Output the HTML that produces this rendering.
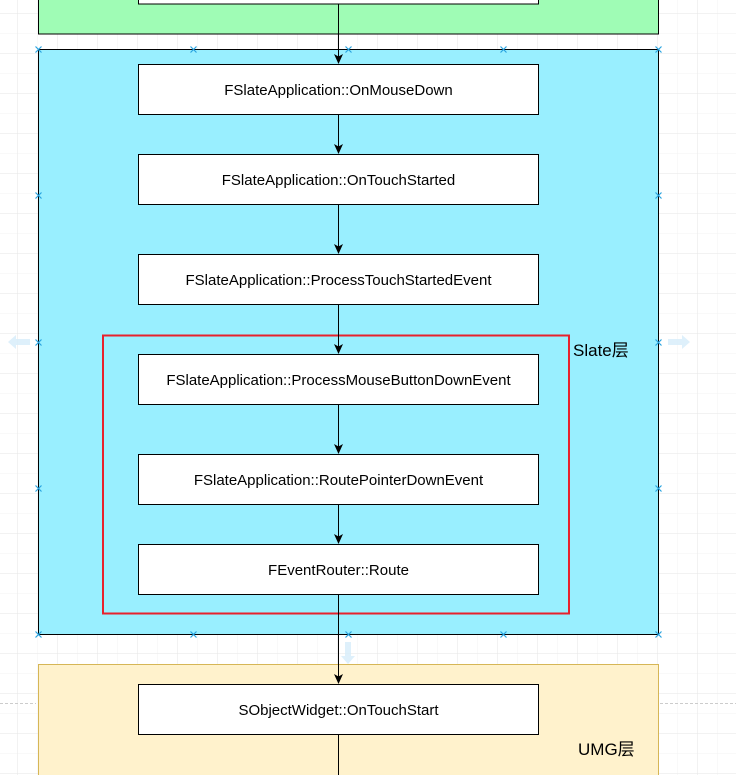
<!DOCTYPE html>
<html><head><meta charset="utf-8"><style>
html,body{margin:0;padding:0;width:736px;height:775px;overflow:hidden;background:#fff}
svg{display:block}
text{font-family:"Liberation Sans","Noto Sans CJK SC",sans-serif;fill:#000}
</style></head><body>
<svg width="736" height="775" viewBox="0 0 736 775" xmlns="http://www.w3.org/2000/svg">
<defs>
<pattern id="g1" width="20" height="20" patternUnits="userSpaceOnUse" x="-2" y="-6">
<path d="M20 0V20M0 20H20" fill="none" stroke="#f3f3f3" stroke-width="1"/></pattern>
<pattern id="g2" width="40" height="40" patternUnits="userSpaceOnUse" x="-22" y="-26">
<path d="M40 0V40M0 40H40" fill="none" stroke="#e6e6e6" stroke-width="1"/></pattern>
</defs>
<rect width="736" height="775" fill="url(#g1)"/>
<rect width="736" height="775" fill="url(#g2)"/>
<line x1="0" y1="703.5" x2="36" y2="703.5" stroke="#ccc" stroke-dasharray="3,2"/>
<line x1="660" y1="703.5" x2="736" y2="703.5" stroke="#ccc" stroke-dasharray="3,2"/>
<rect x="38.5" y="-10" width="620" height="44" fill="#9ffcb5" stroke="#000"/>
<rect x="138.5" y="-20" width="400" height="24" fill="#fff" stroke="#000"/>
<rect x="38.5" y="49.5" width="620" height="585" fill="#99efff" stroke="#000"/>
<rect x="38.5" y="664.5" width="620" height="120" fill="#fff2cc" stroke="#d6b656"/>
<rect x="103" y="335.5" width="466" height="278" fill="none" stroke="#e8212d" stroke-width="2"/>
<g stroke="#000" stroke-width="1" fill="none">
<line x1="338.5" y1="4" x2="338.5" y2="58"/>
<line x1="338.5" y1="114" x2="338.5" y2="148"/>
<line x1="338.5" y1="204" x2="338.5" y2="248"/>
<line x1="338.5" y1="304" x2="338.5" y2="348"/>
<line x1="338.5" y1="404" x2="338.5" y2="448"/>
<line x1="338.5" y1="504" x2="338.5" y2="538"/>
<line x1="338.5" y1="594" x2="338.5" y2="678"/>
<line x1="338.5" y1="734" x2="338.5" y2="775"/>
</g>
<g fill="#000">
<path d="M334 54L338.5 64L343 54L338.5 56.5Z"/>
<path d="M334 144L338.5 154L343 144L338.5 146.5Z"/>
<path d="M334 244L338.5 254L343 244L338.5 246.5Z"/>
<path d="M334 344L338.5 354L343 344L338.5 346.5Z"/>
<path d="M334 444L338.5 454L343 444L338.5 446.5Z"/>
<path d="M334 534L338.5 544L343 534L338.5 536.5Z"/>
<path d="M334 674L338.5 684L343 674L338.5 676.5Z"/>
</g>
<g fill="#fff" stroke="#000">
<rect x="138.5" y="64.5" width="400" height="50"/>
<rect x="138.5" y="154.5" width="400" height="50"/>
<rect x="138.5" y="254.5" width="400" height="50"/>
<rect x="138.5" y="354.5" width="400" height="50"/>
<rect x="138.5" y="454.5" width="400" height="50"/>
<rect x="138.5" y="544.5" width="400" height="50"/>
<rect x="138.5" y="684.5" width="400" height="50"/>
</g>
<g font-size="15" text-anchor="middle">
<text x="338.5" y="95">FSlateApplication::OnMouseDown</text>
<text x="338.5" y="185">FSlateApplication::OnTouchStarted</text>
<text x="338.5" y="285">FSlateApplication::ProcessTouchStartedEvent</text>
<text x="338.5" y="385">FSlateApplication::ProcessMouseButtonDownEvent</text>
<text x="338.5" y="485">FSlateApplication::RoutePointerDownEvent</text>
<text x="338.5" y="575">FEventRouter::Route</text>
<text x="338.5" y="715">SObjectWidget::OnTouchStart</text>
</g>
<text x="573" y="356" font-size="17">Slate层</text>
<text x="578" y="755" font-size="17">UMG层</text>
<g fill="#d6ecfa" opacity="0.8">
<path d="M8 342L16 335V339H30V345H16V349Z"/>
<path d="M690 342L682 335V339H668V345H682V349Z"/>
<path d="M348 664L341 656H345V642H351V656H355Z"/>
</g>
<g stroke="#29a3e0" stroke-width="1.2">
<path d="M35.5 46.5l6 6M41.5 46.5l-6 6"/><path d="M190.5 46.5l6 6M196.5 46.5l-6 6"/><path d="M345.5 46.5l6 6M351.5 46.5l-6 6"/><path d="M500.5 46.5l6 6M506.5 46.5l-6 6"/><path d="M655.5 46.5l6 6M661.5 46.5l-6 6"/>
<path d="M35.5 631.5l6 6M41.5 631.5l-6 6"/><path d="M190.5 631.5l6 6M196.5 631.5l-6 6"/><path d="M345.5 631.5l6 6M351.5 631.5l-6 6"/><path d="M500.5 631.5l6 6M506.5 631.5l-6 6"/><path d="M655.5 631.5l6 6M661.5 631.5l-6 6"/>
<path d="M35.5 192.5l6 6M41.5 192.5l-6 6"/><path d="M35.5 339.5l6 6M41.5 339.5l-6 6"/><path d="M35.5 485.5l6 6M41.5 485.5l-6 6"/>
<path d="M655.5 192.5l6 6M661.5 192.5l-6 6"/><path d="M655.5 339.5l6 6M661.5 339.5l-6 6"/><path d="M655.5 485.5l6 6M661.5 485.5l-6 6"/>
</g>
</svg>
</body></html>
